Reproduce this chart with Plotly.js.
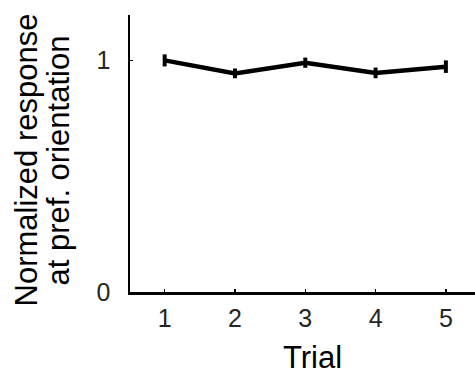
<!DOCTYPE html>
<html>
<head>
<meta charset="utf-8">
<script src="https://cdn.plot.ly/plotly-3.0.1.min.js"></script>
<style>html,body{margin:0;padding:0;background:#fff;}#chart{width:475px;height:375px;}</style>
</head>
<body>
<div id="chart"></div>
<script>
var trials = [1, 2, 3, 4, 5];
var response = [1.0, 0.944, 0.99, 0.946, 0.973];
var responseErr = [0.026, 0.021, 0.022, 0.023, 0.027];
var xTickLabels = ['1', '2', '3', '4', '5'];
var yTickVals = [0, 1];
var yTickLabels = ['0', '1'];

var font = 'Liberation Sans, Arial, sans-serif';

var trace = {
  x: trials,
  y: response,
  type: 'scatter',
  mode: 'lines',
  line: {color: '#000', width: 4.5},
  error_y: {type: 'data', array: responseErr, visible: true, color: '#000', thickness: 4, width: 0},
  hoverinfo: 'skip'
};

var layout = {
  width: 475, height: 375,
  margin: {l: 130, r: 0, t: 15, b: 83, pad: 0},
  paper_bgcolor: '#fff', plot_bgcolor: '#fff',
  showlegend: false,
  font: {family: font, color: '#000', size: 25},
  xaxis: {
    range: [0.507, 5.414],
    tickvals: trials, ticktext: xTickLabels,
    ticks: 'inside', ticklen: 3, tickwidth: 1.5, tickcolor: '#000',
    showline: true, linecolor: '#000', linewidth: 2.5,
    showgrid: false, zeroline: false,
    tickfont: {family: font, size: 25, color: '#262626'},
    ticklabelstandoff: 2
  },
  yaxis: {
    range: [0, 1.196],
    tickvals: yTickVals, ticktext: yTickLabels,
    ticks: 'inside', ticklen: 3, tickwidth: 1.5, tickcolor: '#000',
    showline: true, linecolor: '#000', linewidth: 2.5,
    showgrid: false, zeroline: false,
    tickfont: {family: font, size: 25, color: '#262626'},
    ticklabelstandoff: 12
  },
  annotations: [
    {text: 'Normalized response', xref: 'paper', yref: 'paper', x: 0, y: 0.5,
     xanchor: 'center', yanchor: 'middle', xshift: -104, yshift: -7, textangle: -90, showarrow: false,
     font: {family: font, size: 31, color: '#000'}},
    {text: 'at pref. orientation', xref: 'paper', yref: 'paper', x: 0, y: 0.5,
     xanchor: 'center', yanchor: 'middle', xshift: -72, yshift: -7, textangle: -90, showarrow: false,
     font: {family: font, size: 31, color: '#000'}},
    {text: 'Trial', xref: 'paper', yref: 'paper', x: 0.5, y: 0,
     xanchor: 'center', yanchor: 'top', xshift: 10, yshift: -46, showarrow: false,
     font: {family: font, size: 31, color: '#000'}}
  ]
};

Plotly.newPlot('chart', [trace], layout, {displayModeBar: false, staticPlot: true});
</script>
</body>
</html>
